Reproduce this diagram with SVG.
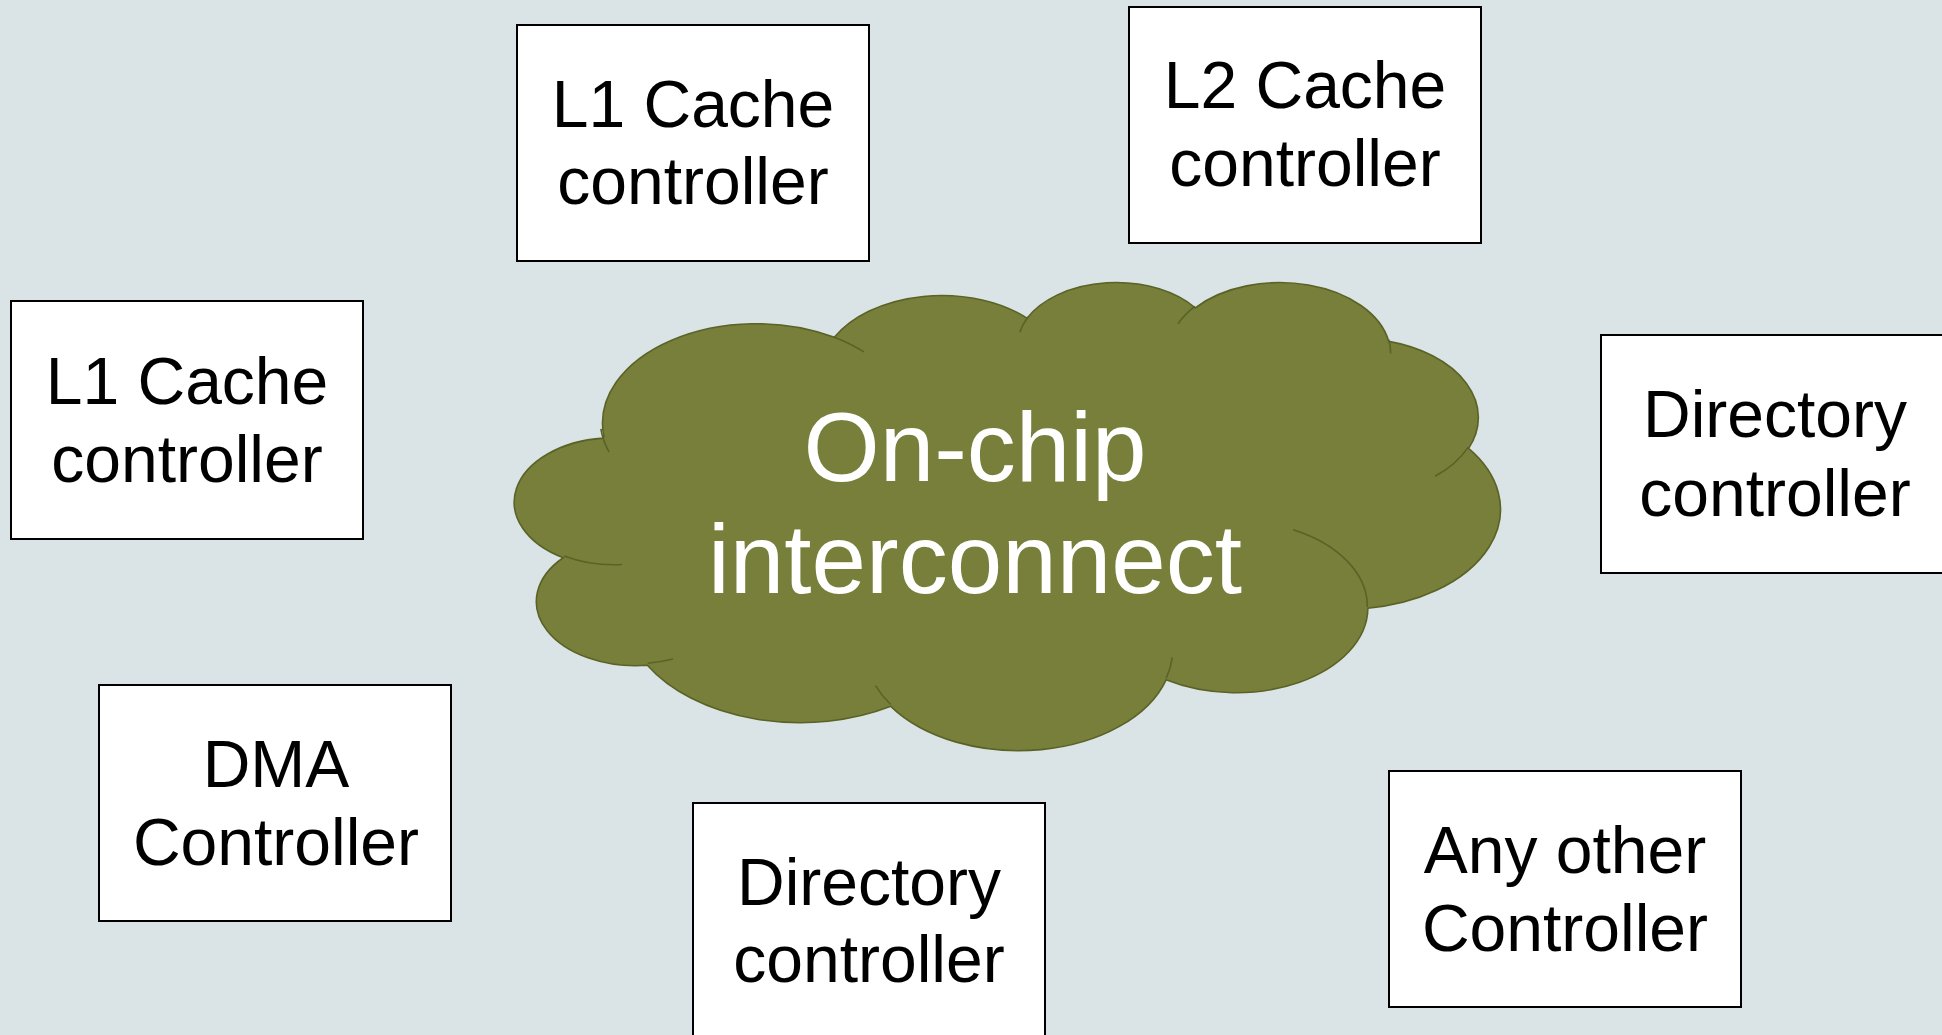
<svg xmlns="http://www.w3.org/2000/svg" width="1942" height="1035" viewBox="0 0 1942 1035">
  <style>
    .box { fill: #ffffff; stroke: #000000; stroke-width: 2; }
    .lbl { font-family: "Liberation Sans", Arial, sans-serif; font-size: 66px; fill: #000000; text-anchor: middle; }
    .cloud { fill: #777F3A; stroke: #5A6226; stroke-width: 1.6; vector-effect: non-scaling-stroke; }
    .crease { fill: none; stroke: #5A6226; stroke-width: 1.6; vector-effect: non-scaling-stroke; }
    .big { font-family: "Liberation Sans", Arial, sans-serif; font-size: 98px; fill: #ffffff; text-anchor: middle; }
  </style>

  <rect x="0" y="0" width="1942" height="1035" fill="#DAE3E5"/>

  <!-- interconnect cloud, drawn in a 43200 unit box then scaled -->
  <g id="interconnect">
    <g transform="translate(515,281) scale(0.022801,0.010833)">
      <path class="cloud" d="M3900,14370
        A6753,9190 0 0 1 14005.6,5202.6
        A5333,7267 0 0 1 22456.6,3432.5
        A4365,5945 0 0 1 29833.8,2481.1
        A4857,6595 0 0 1 38319.1,5576.2
        A5333,7273 0 0 1 41819.4,15459.9
        A6775,9220 0 0 1 37405.0,30202.8
        A5785,7867 0 0 1 28556.5,36812.9
        A6752,9215 0 0 1 16480.9,39263.7
        A7720,10543 0 0 1 5804.5,35469.1
        A4360,5918 0 0 1 2113.8,25546.4
        A4345,5945 0 0 1 3864.4,14503.3 Z"/>
      <path class="crease" d="M4693,26177 A4345,5945 0 0 1 2159.3,25379.5
        M6928,34899 A4360,5918 0 0 1 5819.6,35280.4
        M16478,39090 A6752,9215 0 0 1 15810.2,37349.9
        M28827,34751 A6752,9215 0 0 1 28560.3,36660.1
        M34129,22954 A5785,7867 0 0 1 37380.2,30089.5
        M41798,15354 A5333,7273 0 0 1 40350.3,18029.6
        M38324,5426 A4857,6595 0 0 1 38400.4,6689.5
        M29078,3952 A4857,6595 0 0 1 29819.7,2339.8
        M22141,4720 A4365,5945 0 0 1 22500.0,3330.3
        M14000,5192 A6753,9190 0 0 1 15299.9,6540.7
        M4127,15789 A6753,9190 0 0 1 3764.7,13653.4"/>
    </g>
    <text class="big" x="975" y="481">On-chip</text>
    <text class="big" x="975" y="593">interconnect</text>
  </g>

  <g id="l1-cache-top">
    <rect class="box" x="517" y="25" width="352" height="236"/>
    <text class="lbl" x="693" y="127">L1 Cache</text>
    <text class="lbl" x="693" y="204">controller</text>
  </g>

  <g id="l2-cache">
    <rect class="box" x="1129" y="7" width="352" height="236"/>
    <text class="lbl" x="1305" y="108">L2 Cache</text>
    <text class="lbl" x="1305" y="186">controller</text>
  </g>

  <g id="l1-cache-left">
    <rect class="box" x="11" y="301" width="352" height="238"/>
    <text class="lbl" x="187" y="404">L1 Cache</text>
    <text class="lbl" x="187" y="482">controller</text>
  </g>

  <g id="directory-right">
    <rect class="box" x="1601" y="335" width="352" height="238"/>
    <text class="lbl" x="1775" y="437">Directory</text>
    <text class="lbl" x="1775" y="516">controller</text>
  </g>

  <g id="dma">
    <rect class="box" x="99" y="685" width="352" height="236"/>
    <text class="lbl" x="276" y="787">DMA</text>
    <text class="lbl" x="276" y="865">Controller</text>
  </g>

  <g id="directory-bottom">
    <rect class="box" x="693" y="803" width="352" height="240"/>
    <text class="lbl" x="869" y="905">Directory</text>
    <text class="lbl" x="869" y="982">controller</text>
  </g>

  <g id="other">
    <rect class="box" x="1389" y="771" width="352" height="236"/>
    <text class="lbl" x="1565" y="873">Any other</text>
    <text class="lbl" x="1565" y="951">Controller</text>
  </g>

  <g id="connectors"/>
</svg>
